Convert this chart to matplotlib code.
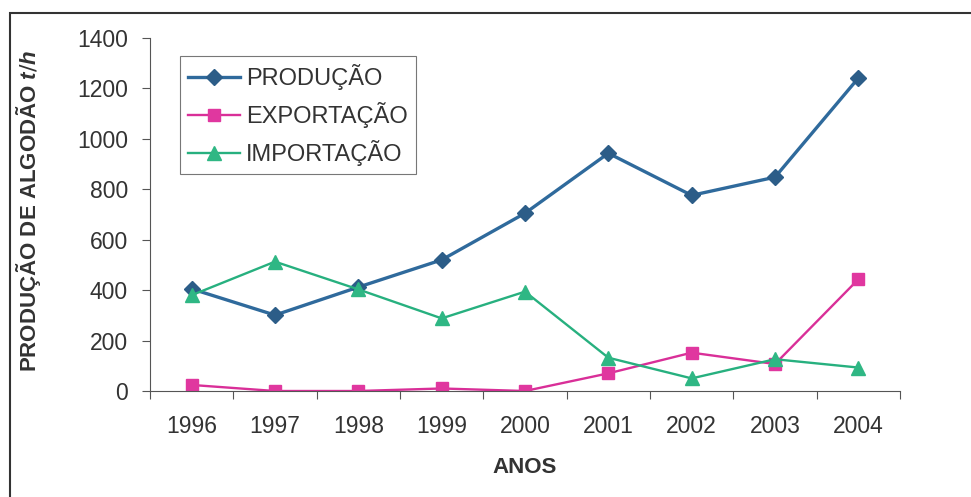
import numpy as np
import matplotlib
matplotlib.use("Agg")
import matplotlib.pyplot as plt
from matplotlib.patches import Rectangle

plt.rcParams['font.family'] = ['Liberation Sans', 'DejaVu Sans']
plt.rcParams['mathtext.fontset'] = 'custom'
plt.rcParams['mathtext.it'] = 'Liberation Sans:italic:bold'

anos = ["1996", "1997", "1998", "1999", "2000", "2001", "2002", "2003", "2004"]
producao = [405, 301, 412, 520, 705, 943, 776, 848, 1241]
exportacao = [24, 0, 0, 10, 0, 70, 152, 107, 443]
importacao = [380, 513, 403, 288, 394, 132, 50, 126, 93]

fig = plt.figure(figsize=(9.71, 4.97), dpi=100)
ax = fig.add_axes([150/971, 1 - 391/497, 750/971, 353/497])

x = np.arange(len(anos))
ax.plot(x, producao, color="#2f6a9c", lw=2.4, marker="D", ms=8,
        mfc="#2c5d88", mec="#2c5d88", label="PRODUÇÃO")
ax.plot(x, exportacao, color="#d92f98", lw=1.7, marker="s", ms=8.5,
        mfc="#e0379f", mec="#e0379f", label="EXPORTAÇÃO")
ax.plot(x, importacao, color="#27b07f", lw=1.7, marker="^", ms=10,
        mfc="#2fb784", mec="#2fb784", label="IMPORTAÇÃO")

ax.set_xlim(-0.5, len(anos) - 0.5)
ax.set_ylim(0, 1400)
ax.set_yticks(range(0, 1401, 200))
ax.set_xticks(np.arange(-0.5, len(anos), 1))
ax.set_xticklabels([])
ax.set_xticks(x, minor=True)
ax.set_xticklabels(anos, minor=True)
ax.tick_params(axis="x", which="major", length=6, width=0.8, color="#555555", direction="out")
ax.tick_params(axis="x", which="minor", length=0, pad=17, labelsize=16.5, labelcolor="#333333")
ax.tick_params(axis="y", length=6, width=0.8, color="#555555", pad=10, labelsize=16.5, labelcolor="#333333")

for s in ["top", "right"]:
    ax.spines[s].set_visible(False)
for s in ["left", "bottom"]:
    ax.spines[s].set_color("#555555")
    ax.spines[s].set_linewidth(0.8)

ax.set_xlabel("ANOS", fontsize=16, fontweight="bold", color="#333333", labelpad=14)
fig.text(29/971, 1 - 211/497, "PRODUÇÃO DE ALGODÃO $t/h$",
         rotation=90, ha="center", va="center", fontsize=16,
         fontweight="bold", color="#333333")

leg = ax.legend(loc="upper left", bbox_to_anchor=(30/750, 1 - 18/353), fontsize=17,
                frameon=True, fancybox=False, handlelength=2.2, handletextpad=0.25,
                borderpad=0.35, labelspacing=0.5, borderaxespad=0)
leg.get_frame().set_edgecolor("#555555")
leg.get_frame().set_linewidth(0.8)
for t in leg.get_texts():
    t.set_color("#333333")

fig.patches.append(Rectangle((10/971, -0.05), 1.1, 1 - 13/497 + 0.05,
                             transform=fig.transFigure, fill=False,
                             edgecolor="#333333", lw=1.5, clip_on=False))

fig.savefig("out.png", dpi=100)
